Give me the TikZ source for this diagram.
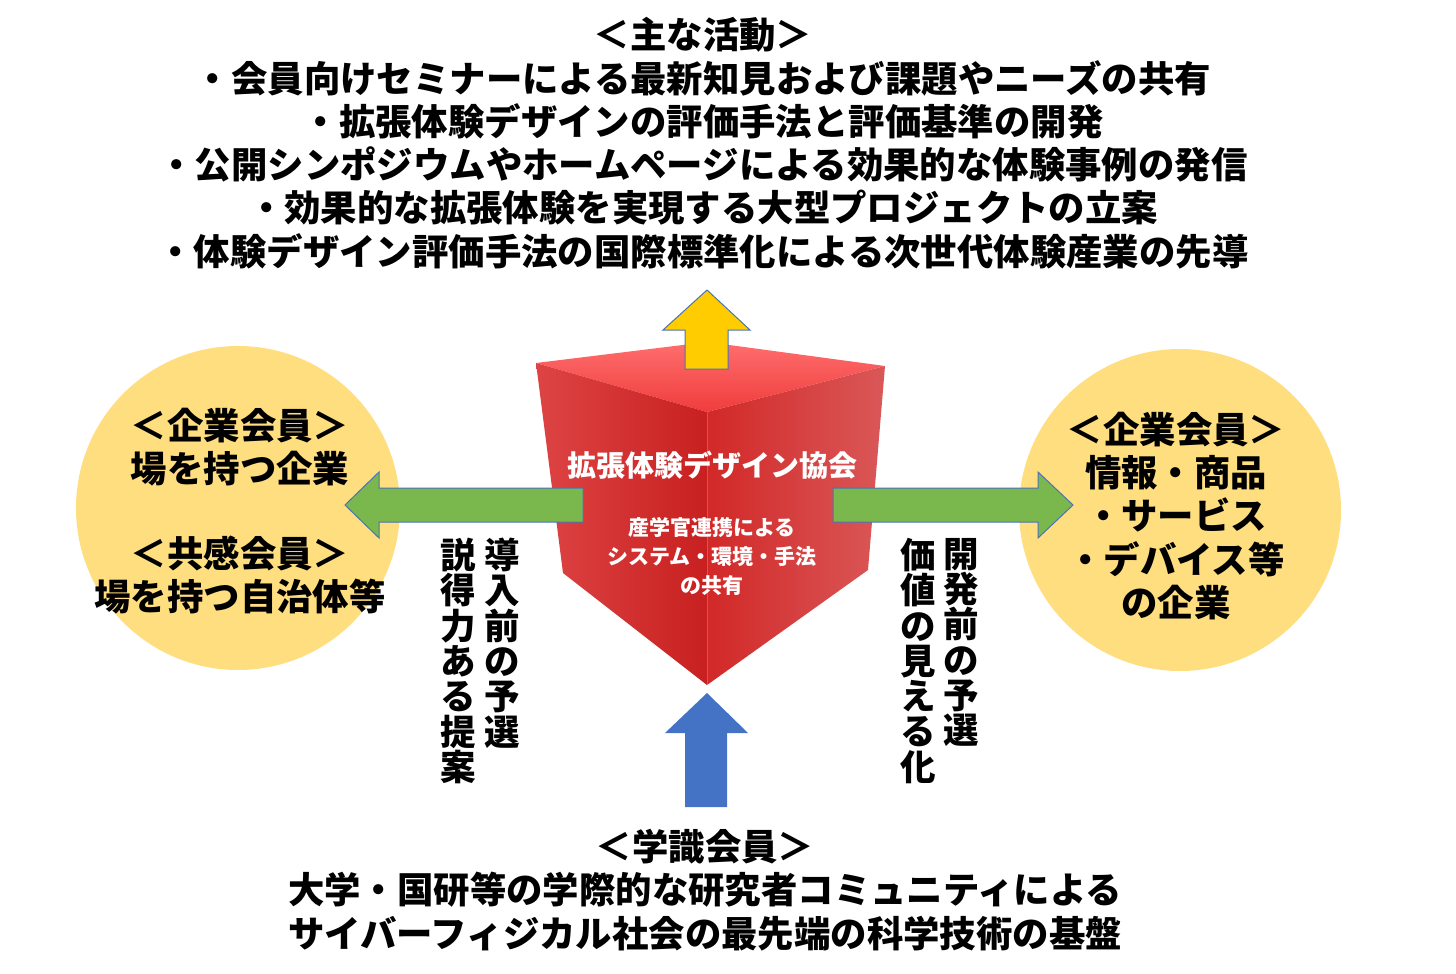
\documentclass[tikz,border=0pt]{standalone}
\usepackage{fontspec}
\newfontfamily\cjk{Noto Sans CJK JP}
\usetikzlibrary{positioning}

\definecolor{memberfill}{HTML}{FFDE80}
\definecolor{arrowline}{HTML}{4A72B8}
\definecolor{upyellow}{HTML}{FFCC00}
\definecolor{sidegreen}{HTML}{7AB84E}
\definecolor{upblue}{HTML}{4472C4}
\definecolor{cubetopA}{HTML}{FF6E6E}
\definecolor{cubetopB}{HTML}{F03C3C}
\definecolor{cubeleftA}{HTML}{DE4444}
\definecolor{cubeleftB}{HTML}{C82020}
\definecolor{cuberightA}{HTML}{D22828}
\definecolor{cuberightB}{HTML}{DA5858}

\begin{document}
\begin{tikzpicture}[x=1pt, y=-1pt,
    bigtext/.style={font=\cjk\bfseries\fontsize{36.4}{43.2}\selectfont, align=center, inner sep=0pt},
    verttext/.style={font=\cjk\bfseries\fontsize{35.5}{35.3}\selectfont, align=center, inner sep=0pt, anchor=north},
    cubetext/.style={font=\cjk\bfseries, text=white, align=center, inner sep=0pt},
    blockarrow/.style={draw=arrowline, line width=1pt, line join=miter}]

    \useasboundingbox (0,0) rectangle (1456,974);

    % member circles
    \node [circle, fill=memberfill, minimum size=324pt] (left_circle) at (238,508) {};
    \node [circle, fill=memberfill, minimum size=322pt] (right_circle) at (1180,510) {};

    % cube corners
    \coordinate (cube_tl) at (536,363);
    \coordinate (cube_back) at (707,342);
    \coordinate (cube_tr) at (885,366);
    \coordinate (cube_front) at (707,412);
    \coordinate (cube_bl) at (563,573);
    \coordinate (cube_br) at (868,570);
    \coordinate (cube_bottom) at (707,685);

    % cube faces
    \shade [top color=cubetopA, bottom color=cubetopB] (cube_tl) -- (cube_back) -- (cube_tr) -- (cube_front) -- cycle;
    \shade [left color=cubeleftA, right color=cubeleftB] (cube_tl) -- (cube_front) -- (cube_bottom) -- (cube_bl) -- cycle;
    \shade [left color=cuberightA, right color=cuberightB] (cube_front) -- (cube_tr) -- (cube_br) -- (cube_bottom) -- cycle;
    \draw [white, opacity=0.2, line width=0.6pt] (cube_front) -- (cube_bottom);

    % block arrows
    \filldraw [blockarrow, fill=upyellow] (685,369) -- (685,330) -- (663,330) -- (707,290) -- (750,330) -- (728,330) -- (728,369) -- cycle;
    \filldraw [blockarrow, fill=sidegreen] (583,488) -- (379,488) -- (379,472) -- (345,505) -- (379,538) -- (379,522) -- (583,522) -- cycle;
    \filldraw [blockarrow, fill=sidegreen] (833,488) -- (1038,488) -- (1038,472) -- (1073,505) -- (1038,538) -- (1038,522) -- (833,522) -- cycle;
    \fill [upblue] (685,807) -- (685,733) -- (665,733) -- (707,693) -- (748,733) -- (727,733) -- (727,807) -- cycle;

    % cube labels
    \node [cubetext, font=\cjk\bfseries\fontsize{29}{29}\selectfont] (society) at (712,465) {拡張体験デザイン協会};
    \node [cubetext, font=\cjk\bfseries\fontsize{21}{29}\selectfont] (society_sub) at (712,556) {産学官連携による\\システム・環境・手法\\の共有};

    % main activities
    \foreach \activity [count=\i from 0] in {＜主な活動＞,
        ・会員向けセミナーによる最新知見および課題やニーズの共有,
        ・拡張体験デザインの評価手法と評価基準の開発,
        ・公開シンポジウムやホームページによる効果的な体験事例の発信,
        ・効果的な拡張体験を実現する大型プロジェクトの立案,
        ・体験デザイン評価手法の国際標準化による次世代体験産業の先導} {
        \node [bigtext] (activity\i) at (703,35+43.2*\i) {\activity};
    }

    % member texts
    \node [bigtext] (left_members_a) at (240,447) {＜企業会員＞\\場を持つ企業};
    \node [bigtext] (left_members_b) at (240,575) {＜共感会員＞\\場を持つ自治体等};
    \node [bigtext] (right_members) at (1176,516) {＜企業会員＞\\情報・商品\\・サービス\\・デバイス等\\の企業};
    \node [bigtext] (academic_members) at (705,890) {＜学識会員＞\\大学・国研等の学際的な研究者コミュニティによる\\サイバーフィジカル社会の最先端の科学技術の基盤};

    % vertical texts beside the arrows
    \node [verttext] (left_vert_a) at (502,538) {導\\入\\前\\の\\予\\選};
    \node [verttext] (left_vert_b) at (458,538) {説\\得\\力\\あ\\る\\提\\案};
    \node [verttext] (right_vert_a) at (961,538) {開\\発\\前\\の\\予\\選};
    \node [verttext] (right_vert_b) at (918,538) {価\\値\\の\\見\\え\\る\\化};

\end{tikzpicture}
\end{document}
